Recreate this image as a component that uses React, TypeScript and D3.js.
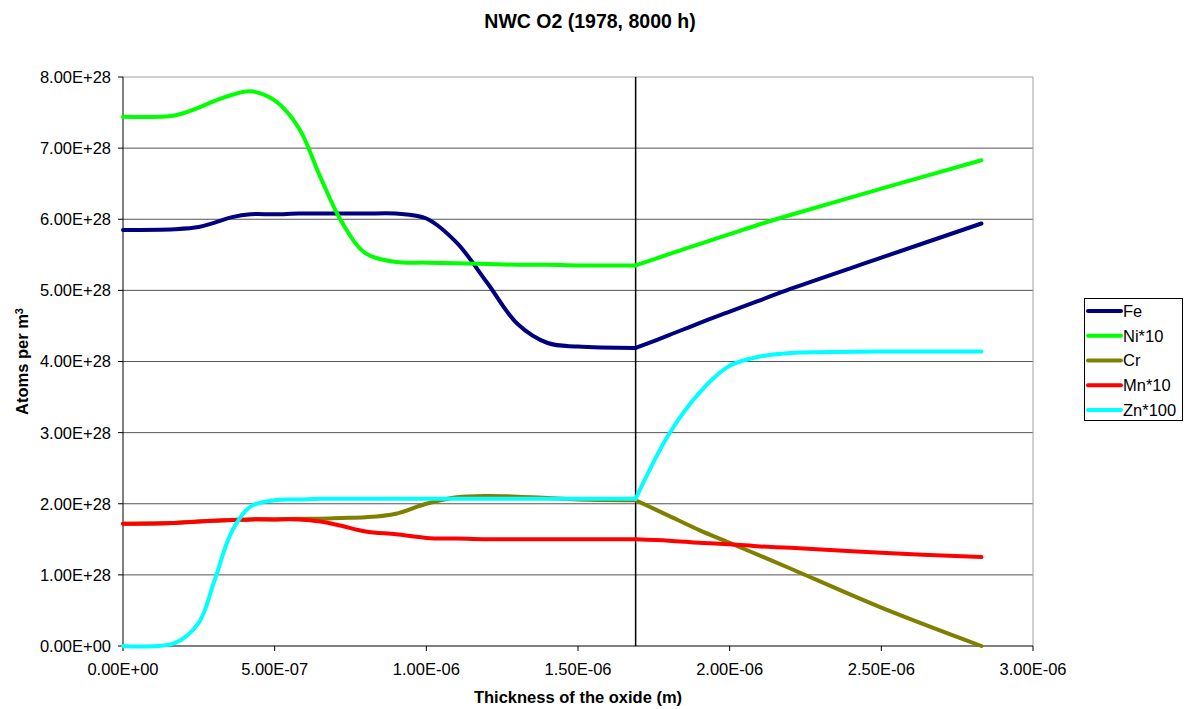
import React, { useEffect, useRef } from 'react';
import * as d3 from 'd3';

// thickness positions (m) for the inner and outer oxide layers
const innerThickness = [0, 1.7e-7, 2.5e-7, 3.0e-7, 3.6e-7, 4.2e-7, 5.0e-7, 5.8e-7, 6.5e-7, 7.2e-7, 8.0e-7, 9.0e-7, 1.0e-6, 1.1e-6, 1.2e-6, 1.3e-6, 1.4e-6, 1.5e-6, 1.69e-6];
const outerThickness = [1.69e-6, 1.8e-6, 1.9e-6, 2.0e-6, 2.1e-6, 2.2e-6, 2.5e-6, 2.83e-6];

// values in units of 1E+28 atoms per m3
const feInner = [5.85, 5.86, 5.89, 5.95, 6.03, 6.07, 6.07, 6.08, 6.08, 6.08, 6.08, 6.08, 6.01, 5.67, 5.11, 4.53, 4.26, 4.21, 4.19];
const niInner = [7.44, 7.46, 7.57, 7.66, 7.75, 7.80, 7.67, 7.28, 6.60, 5.97, 5.52, 5.40, 5.39, 5.38, 5.37, 5.36, 5.36, 5.35, 5.35];
const crInner = [1.72, 1.73, 1.75, 1.76, 1.77, 1.78, 1.78, 1.79, 1.79, 1.80, 1.81, 1.86, 2.00, 2.09, 2.11, 2.10, 2.08, 2.06, 2.05];
const mnInner = [1.72, 1.73, 1.75, 1.76, 1.77, 1.78, 1.78, 1.78, 1.75, 1.69, 1.61, 1.57, 1.52, 1.51, 1.50, 1.50, 1.50, 1.50, 1.50];
const znInner = [0, 0.04, 0.33, 0.90, 1.62, 1.96, 2.05, 2.06, 2.07, 2.07, 2.07, 2.07, 2.07, 2.07, 2.07, 2.07, 2.07, 2.07, 2.07];

const feOuter = [4.19, 4.37, 4.54, 4.70, 4.86, 5.02, 5.46, 5.94];
const niOuter = [5.35, 5.51, 5.65, 5.79, 5.93, 6.06, 6.43, 6.83];
const crOuter = [2.05, 1.83, 1.63, 1.45, 1.27, 1.09, 0.54, 0.0];
const mnOuter = [1.50, 1.48, 1.45, 1.43, 1.40, 1.38, 1.31, 1.25];
const znOuter = [2.07, 2.98, 3.56, 3.94, 4.07, 4.12, 4.14, 4.14];

const seriesNames = ['Fe', 'Ni*10', 'Cr', 'Mn*10', 'Zn*100'];
const seriesColors = ['#000080', '#00ff00', '#808000', '#ff0000', '#00ffff'];
const innerValues = [feInner, niInner, crInner, mnInner, znInner];
const outerValues = [feOuter, niOuter, crOuter, mnOuter, znOuter];

const interfaceThickness = 1.69e-6;
const UNIT = 1e28;
const xTicks = [0, 5e-7, 1e-6, 1.5e-6, 2e-6, 2.5e-6, 3e-6];
const yTicks = [0, 1e28, 2e28, 3e28, 4e28, 5e28, 6e28, 7e28, 8e28];

const FONT = 'Arial, "Liberation Sans", sans-serif';

function excelExp(v: number) {
  const [m, e] = v.toExponential(2).split('e');
  const sign = e[0] === '-' ? '-' : '+';
  const digits = e.replace(/[+-]/, '').padStart(2, '0');
  return `${m}E${sign}${digits}`;
}

export default function App() {
  const svgRef = useRef<SVGSVGElement>(null);

  useEffect(() => {
    if (!svgRef.current) return;
    document.body.style.margin = '0';
    const svg = d3.select(svgRef.current);
    svg.selectAll('*').remove();

    const left = 123, right = 1033, top = 77, bottom = 646;

    const x = d3.scaleLinear().domain([0, 3e-6]).range([left, right]);
    const y = d3.scaleLinear().domain([0, 8e28]).range([bottom, top]);

    // gridlines
    svg.append('g')
      .selectAll('line')
      .data(yTicks.slice(1))
      .enter()
      .append('line')
      .attr('x1', left)
      .attr('x2', right)
      .attr('y1', d => y(d))
      .attr('y2', d => y(d))
      .attr('stroke', d => (d === 8e28 ? '#a0a0a0' : '#555'))
      .attr('stroke-width', 1);

    // right border of plot area
    svg.append('line')
      .attr('x1', right).attr('x2', right)
      .attr('y1', top).attr('y2', bottom)
      .attr('stroke', '#a0a0a0');

    // axes
    const yAxis = svg.append('g');
    yAxis.append('line')
      .attr('x1', left).attr('x2', left)
      .attr('y1', top).attr('y2', bottom)
      .attr('stroke', '#000');
    yAxis.selectAll('.tick')
      .data(yTicks)
      .enter()
      .append('line')
      .attr('x1', left - 5).attr('x2', left)
      .attr('y1', d => y(d)).attr('y2', d => y(d))
      .attr('stroke', '#000');
    yAxis.selectAll('text')
      .data(yTicks)
      .enter()
      .append('text')
      .attr('x', left - 12)
      .attr('y', d => y(d))
      .attr('dy', '0.36em')
      .attr('text-anchor', 'end')
      .style('font-family', FONT)
      .style('font-size', '16.5px')
      .text(d => excelExp(d));

    const xAxis = svg.append('g');
    xAxis.append('line')
      .attr('x1', left).attr('x2', right)
      .attr('y1', bottom).attr('y2', bottom)
      .attr('stroke', '#000');
    xAxis.selectAll('.tick')
      .data(xTicks)
      .enter()
      .append('line')
      .attr('x1', d => x(d)).attr('x2', d => x(d))
      .attr('y1', bottom).attr('y2', bottom + 5)
      .attr('stroke', '#000');
    xAxis.selectAll('text')
      .data(xTicks)
      .enter()
      .append('text')
      .attr('x', d => x(d))
      .attr('y', 675)
      .attr('text-anchor', 'middle')
      .style('font-family', FONT)
      .style('font-size', '16.5px')
      .text(d => excelExp(d));

    // oxide interface
    svg.append('line')
      .attr('x1', x(interfaceThickness)).attr('x2', x(interfaceThickness))
      .attr('y1', y(0)).attr('y2', y(8e28))
      .attr('stroke', '#000')
      .attr('stroke-width', 1.5);

    // series
    const line = d3.line<[number, number]>()
      .x(d => x(d[0]))
      .y(d => y(d[1] * UNIT))
      .curve(d3.curveCatmullRom.alpha(0.5));

    seriesNames.forEach((name, i) => {
      [[innerThickness, innerValues[i]], [outerThickness, outerValues[i]]].forEach(([xs, vs]) => {
        const pts = xs.map((t, j) => [t, vs[j]] as [number, number]);
        svg.append('path')
          .datum(pts)
          .attr('fill', 'none')
          .attr('stroke', seriesColors[i])
          .attr('stroke-width', 4)
          .attr('stroke-linecap', 'round')
          .attr('stroke-linejoin', 'round')
          .attr('d', line);
      });
    });

    // titles
    svg.append('text')
      .attr('x', 590)
      .attr('y', 28)
      .attr('text-anchor', 'middle')
      .style('font-family', FONT)
      .style('font-size', '19.5px')
      .style('font-weight', 'bold')
      .text('NWC O2 (1978, 8000 h)');

    svg.append('text')
      .attr('x', (left + right) / 2)
      .attr('y', 703)
      .attr('text-anchor', 'middle')
      .style('font-family', FONT)
      .style('font-size', '16.5px')
      .style('font-weight', 'bold')
      .text('Thickness of the oxide (m)');

    const yTitle = svg.append('text')
      .attr('transform', `translate(28,${(top + bottom) / 2}) rotate(-90)`)
      .attr('text-anchor', 'middle')
      .style('font-family', FONT)
      .style('font-size', '16.5px')
      .style('font-weight', 'bold');
    yTitle.append('tspan').text('Atoms per m');
    yTitle.append('tspan').attr('dy', '-0.45em').style('font-size', '11px').text('3');

    // legend
    const legend = svg.append('g');
    legend.append('rect')
      .attr('x', 1084.5).attr('y', 298.5)
      .attr('width', 98).attr('height', 122)
      .attr('fill', '#fff')
      .attr('stroke', '#000');
    seriesNames.forEach((name, i) => {
      const ly = 311 + i * 24.75;
      legend.append('line')
        .attr('x1', 1088).attr('x2', 1121)
        .attr('y1', ly).attr('y2', ly)
        .attr('stroke', seriesColors[i])
        .attr('stroke-width', 4)
        .attr('stroke-linecap', 'round');
      legend.append('text')
        .attr('x', 1123)
        .attr('y', ly)
        .attr('dy', '0.36em')
        .style('font-family', FONT)
        .style('font-size', '16.5px')
        .text(name);
    });
  }, []);

  return <svg ref={svgRef} width={1185} height={709} style={{ display: 'block', background: '#fff' }} />;
}
